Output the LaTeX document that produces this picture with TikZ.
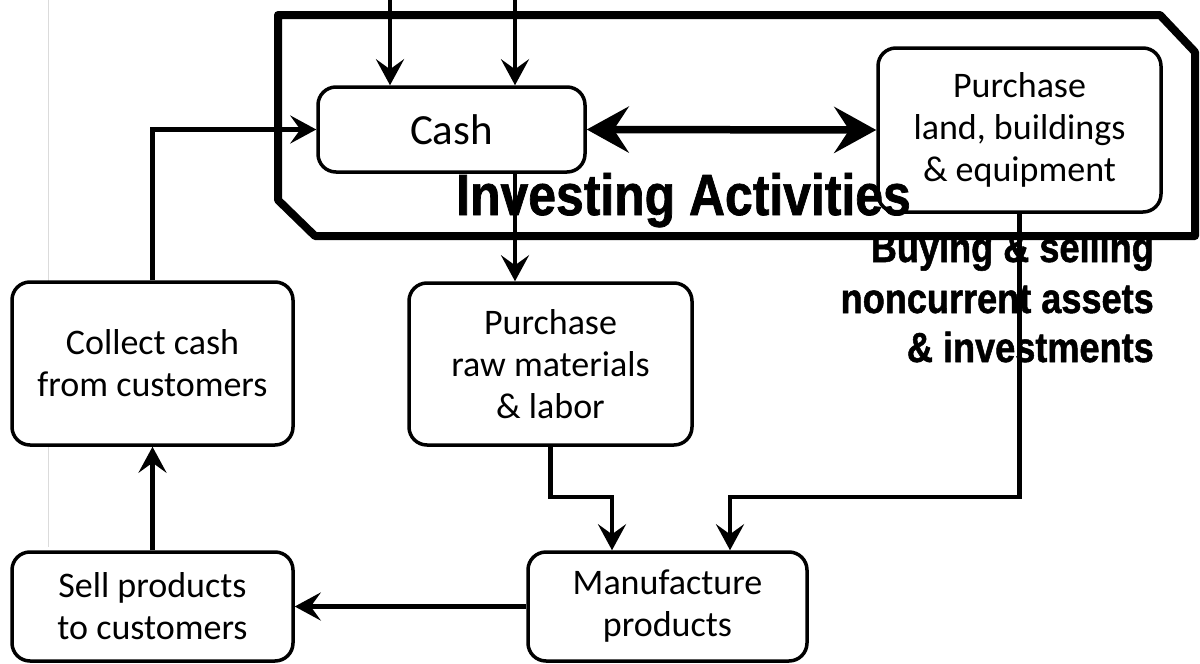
\documentclass[tikz,border=0pt]{standalone}
\usepackage{fontspec}
\setmainfont{Carlito}
\newfontfamily\condb{Liberation Sans}[FakeStretch=0.86,FakeBold=1.2]
\usetikzlibrary{arrows.meta}
\begin{document}
\begin{tikzpicture}[x=1pt,y=-1pt]
\tikzset{
 pbox/.style={draw, line width=3.5pt, fill=white, rounded corners=18pt, inner sep=0pt, align=center, font=\fontsize{36}{42}\selectfont},
 conn/.style={line width=4.5pt, -{Stealth[length=26pt,width=28pt,inset=10pt]}},
 dbl/.style={line width=7.5pt, {Stealth[length=42pt,width=46pt,inset=15pt]}-{Stealth[length=42pt,width=46pt,inset=15pt]}},
 invframe/.style={draw, line width=8pt, line join=round, fill=white},
 bigtxt/.style={font=\condb\bfseries\fontsize{58}{60}\selectfont, inner sep=0pt},
 subtxt/.style={font=\condb\bfseries\fontsize{42}{50}\selectfont, inner sep=0pt, anchor=base east},
}
\useasboundingbox (0,0) rectangle (1200,664);
% faint guide line
\draw[black!14, line width=1pt] (48,0) -- (48,547);
% side label (partly hidden by the frame)
\node[subtxt] (b1) at (1154,262) {Buying \& selling};
\node[subtxt] (b2) at (1154,313) {noncurrent assets};
\node[subtxt] (b3) at (1154,362) {\& investments};
% investing frame
\path[invframe] (278,15) -- (1160,15) -- (1195,52) -- (1195,236) -- (315,236) -- (278,200) -- cycle;
% boxes
\node[pbox, minimum width=267pt, minimum height=85pt, font=\fontsize{43}{50}\selectfont] (cash) at (451.5,129.5) {Cash};
\node[pbox, minimum width=283pt, minimum height=164pt] (land) at (1019.5,130) {Purchase\\land, buildings\\\& equipment};
\node[pbox, minimum width=281pt, minimum height=163pt] (collect) at (152.5,363.5) {Collect cash\\from customers};
\node[pbox, minimum width=283pt, minimum height=162pt] (raw) at (550.5,364) {Purchase\\raw materials\\\& labor};
\node[pbox, minimum width=281pt, minimum height=109pt] (sell) at (152.5,606.5) {Sell products\\to customers};
\node[pbox, minimum width=279pt, minimum height=109pt] (manu) at (667.5,606.5) {Manufacture\\products};
\node[bigtxt, anchor=base west] (inv) at (456,215) {Investing Activities};
% connectors
\coordinate (t1) at (390,0);
\coordinate (t2) at (515,0);
\coordinate (j1) at (612,497);
\coordinate (j2) at (730,497);
\draw[conn] (t1) -- (t1 |- cash.north);
\draw[conn] (t2) -- (t2 |- cash.north);
\draw[conn] (collect.north) |- (cash.west);
\draw[dbl] (cash.east) -- (land.west);
\draw[conn] (t2 |- cash.south) -- (t2 |- raw.north);
\draw[conn] (raw.south) |- (j1) -- (j1 |- manu.north);
\draw[conn] (land.south) |- (j2) -- (j2 |- manu.north);
\draw[conn] (manu.west) -- (sell.east);
\draw[conn] (sell.north) -- (collect.south);
\end{tikzpicture}
\end{document}
